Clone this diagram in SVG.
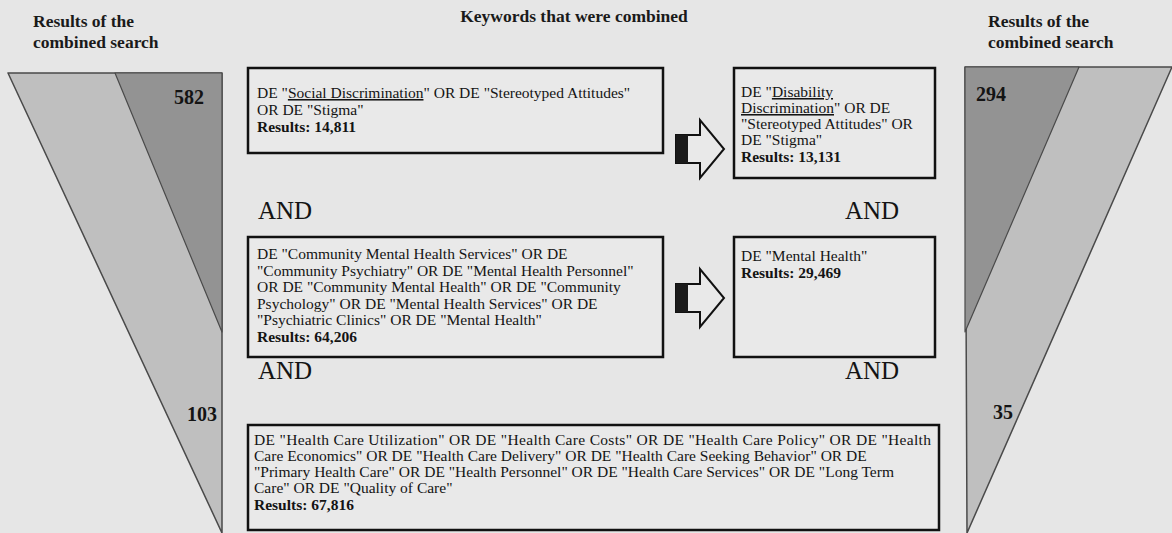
<svg xmlns="http://www.w3.org/2000/svg" width="1172" height="533" viewBox="0 0 1172 533">
  <style>
    .bg { fill: #e6e6e6; }
    .head { font-family: 'Liberation Serif', 'Times New Roman', serif; font-size: 17.5px; font-weight: bold; fill: #1a1a1a; }
    .box { fill: #e9e9e9; stroke: #111; stroke-width: 2.5; }
    .kw { font-family: 'Liberation Serif', 'Times New Roman', serif; font-size: 15.5px; fill: #141414; }
    .res { font-weight: bold; }
    .ul { text-decoration: underline; }
    .and { font-family: 'Liberation Serif', 'Times New Roman', serif; font-size: 25px; fill: #141414; }
    .num { font-family: 'Liberation Serif', 'Times New Roman', serif; font-size: 20px; font-weight: bold; fill: #141414; }
    .band-mid { fill: #bfbfbf; stroke: #4a4a4a; stroke-width: 1.5; stroke-linejoin: round; }
    .band-dark { fill: #939393; stroke: #4a4a4a; stroke-width: 1.2; stroke-linejoin: round; }
    .arrow-body { fill: #e9e9e9; stroke: #111; stroke-width: 2; stroke-linejoin: miter; }
    .arrow-tail { fill: #1a1a1a; }
  </style>
  <defs>
    <!-- block arrow pointing right, tail centred on y = 0 -->
    <g id="block-arrow">
      <path class="arrow-body" d="M0,-14 H24 V-29 L48,0 L24,29 V14 H0 Z"/>
      <rect class="arrow-tail" x="0" y="-14" width="12" height="28"/>
    </g>
  </defs>

  <rect class="bg" x="0" y="0" width="1172" height="533"/>

  <!-- column headings -->
  <g id="heading-left">
    <text class="head" x="33" y="27">Results of the</text>
    <text class="head" x="33" y="48">combined search</text>
  </g>
  <g id="heading-centre">
    <text class="head" x="574" y="22" text-anchor="middle">Keywords that were combined</text>
  </g>
  <g id="heading-right">
    <text class="head" x="988" y="27">Results of the</text>
    <text class="head" x="988" y="48">combined search</text>
  </g>

  <!-- funnel on the left -->
  <g id="funnel-left">
    <polygon class="band-mid" points="8,73 222,73 222,533"/>
    <polygon class="band-dark" points="115,73 222,73 222,332"/>
    <text class="num" x="204" y="104" text-anchor="end">582</text>
    <text class="num" x="217" y="421" text-anchor="end">103</text>
  </g>

  <!-- funnel on the right -->
  <g id="funnel-right">
    <polygon class="band-mid" points="965,67 1172,67 967,533"/>
    <polygon class="band-dark" points="965,67 1079,67 965,332"/>
    <text class="num" x="976" y="101">294</text>
    <text class="num" x="993" y="419">35</text>
  </g>

  <!-- keyword sets -->
  <g id="box-stigma">
    <rect class="box" x="248" y="68" width="415" height="85"/>
    <text class="kw" x="257" y="98">DE "<tspan class="ul">Social Discrimination</tspan>" OR DE "Stereotyped Attitudes"</text>
    <text class="kw" x="257" y="115">OR DE "Stigma"</text>
    <text class="kw res" x="257" y="132">Results: 14,811</text>
  </g>

  <g id="box-disability">
    <rect class="box" x="734" y="68" width="201" height="110"/>
    <text class="kw" x="741" y="97">DE "<tspan class="ul">Disability</tspan></text>
    <text class="kw" x="741" y="113"><tspan class="ul">Discrimination</tspan>" OR DE</text>
    <text class="kw" x="741" y="129">"Stereotyped Attitudes" OR</text>
    <text class="kw" x="741" y="145">DE "Stigma"</text>
    <text class="kw res" x="741" y="162">Results: 13,131</text>
  </g>

  <g id="box-community">
    <rect class="box" x="248" y="237" width="415" height="120"/>
    <text class="kw" x="257" y="259">DE "Community Mental Health Services" OR DE</text>
    <text class="kw" x="257" y="275.5">"Community Psychiatry" OR DE "Mental Health Personnel"</text>
    <text class="kw" x="257" y="292">OR DE "Community Mental Health" OR DE "Community</text>
    <text class="kw" x="257" y="308.5">Psychology" OR DE "Mental Health Services" OR DE</text>
    <text class="kw" x="257" y="325">"Psychiatric Clinics" OR DE "Mental Health"</text>
    <text class="kw res" x="257" y="342">Results: 64,206</text>
  </g>

  <g id="box-mental-health">
    <rect class="box" x="734" y="237" width="201" height="120"/>
    <text class="kw" x="741" y="261">DE "Mental Health"</text>
    <text class="kw res" x="741" y="278">Results: 29,469</text>
  </g>

  <g id="box-health-care">
    <rect class="box" x="248" y="425" width="691" height="105"/>
    <text class="kw" x="254" y="445" textLength="677">DE "Health Care Utilization" OR DE "Health Care Costs" OR DE "Health Care Policy" OR DE "Health</text>
    <text class="kw" x="254" y="461">Care Economics" OR DE "Health Care Delivery" OR DE "Health Care Seeking Behavior" OR DE</text>
    <text class="kw" x="254" y="477">"Primary Health Care" OR DE "Health Personnel" OR DE "Health Care Services" OR DE "Long Term</text>
    <text class="kw" x="254" y="493">Care" OR DE "Quality of Care"</text>
    <text class="kw res" x="254" y="510">Results: 67,816</text>
  </g>

  <!-- operators between the rows -->
  <g id="operators">
    <text class="and" x="258" y="219">AND</text>
    <text class="and" x="845" y="219">AND</text>
    <text class="and" x="258" y="379">AND</text>
    <text class="and" x="845" y="379">AND</text>
  </g>

  <!-- connectors: narrowing of each keyword set -->
  <g id="connectors">
    <use href="#block-arrow" x="676" y="149"/>
    <use href="#block-arrow" x="676" y="298"/>
  </g>
</svg>
